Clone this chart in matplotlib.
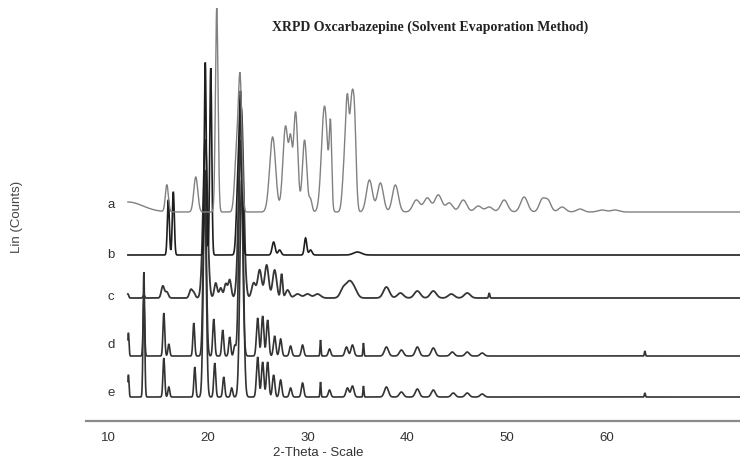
import numpy as np
import matplotlib
matplotlib.use("Agg")
import matplotlib.pyplot as plt

# ---- data (2-theta in degrees, intensity in counts; patterns stacked by offsets) ----
labels = ["a", "b", "c", "d", "e"]
offsets = [209, 166, 123, 65, 24]
scan_start, scan_end, scan_step = 12.0, 73.3, 0.02

a_pos = [12.0, 15.9, 18.8, 20.9, 22.9, 23.25, 26.5, 27.8, 28.3, 28.8, 29.7, 30.3, 31.7, 32.3,
         33.7, 34.0, 34.4, 34.7, 36.2, 37.3, 38.8, 40.9, 42.0, 43.1, 44.2, 45.6, 47.1, 48.2,
         49.7, 51.7, 53.5, 54.1, 55.5, 57.3, 59.5, 60.8]
a_int = [10, 27, 35, 204, 60, 125, 75, 86, 55, 100, 72, 12, 106, 78,
         45, 98, 92, 88, 32, 29, 27, 12, 14, 17, 9, 12, 6, 5,
         12, 15, 12, 11, 5, 3, 2, 2]
a_wid = [1.5, 0.15, 0.2, 0.13, 0.2, 0.17, 0.3, 0.27, 0.15, 0.22, 0.22, 0.15, 0.3, 0.12,
         0.2, 0.17, 0.17, 0.17, 0.3, 0.3, 0.3, 0.35, 0.35, 0.35, 0.35, 0.35, 0.35, 0.35,
         0.35, 0.35, 0.3, 0.3, 0.35, 0.35, 0.4, 0.4]

b_pos = [16.05, 16.55, 19.75, 20.3, 23.0, 23.3, 26.6, 27.2, 29.8, 30.3, 35.0]
b_int = [55, 63, 193, 187, 60, 155, 13, 5, 17, 5, 3]
b_wid = [0.1, 0.1, 0.1, 0.1, 0.15, 0.15, 0.15, 0.15, 0.12, 0.15, 0.4]

c_pos = [12.0, 13.6, 15.5, 15.9, 18.3, 18.6, 19.75, 20.8, 21.3, 21.8, 22.2, 23.35, 24.6, 25.2,
         25.9, 26.7, 27.4, 28.0, 29.0, 30.0, 31.0, 33.6, 34.2, 34.7, 37.9, 39.3, 41.0, 42.6,
         44.4, 46.0, 48.2]
c_int = [4, 3, 12, 6, 8, 5, 158, 15, 10, 14, 18, 190, 15, 28,
         33, 28, 24, 8, 4, 4, 4, 10, 14, 8, 11, 5, 7, 7,
         4, 5, 5]
c_wid = [0.08, 0.08, 0.15, 0.15, 0.15, 0.15, 0.22, 0.15, 0.15, 0.15, 0.15, 0.24, 0.2, 0.2,
         0.2, 0.2, 0.1, 0.2, 0.3, 0.3, 0.3, 0.3, 0.3, 0.3, 0.3, 0.3, 0.3, 0.3,
         0.3, 0.3, 0.06]

d_pos = [12.05, 13.6, 15.6, 16.1, 18.6, 19.7, 20.6, 21.5, 22.2, 22.7, 23.3, 25.0, 25.5, 26.0,
         26.7, 27.3, 28.3, 29.5, 31.3, 32.2, 33.9, 34.5, 35.6, 37.9, 39.4, 41.0, 42.6, 44.5,
         46.0, 47.5, 63.8]
d_int = [23, 55, 43, 12, 33, 186, 37, 26, 19, 10, 216, 38, 40, 36,
         20, 17, 10, 11, 16, 7, 9, 11, 13, 9, 6, 9, 8, 4,
         4, 3, 5]
d_wid = [0.06, 0.08, 0.09, 0.09, 0.09, 0.15, 0.1, 0.1, 0.1, 0.1, 0.18, 0.12, 0.12, 0.12,
         0.12, 0.12, 0.12, 0.12, 0.05, 0.12, 0.15, 0.15, 0.05, 0.2, 0.2, 0.2, 0.2, 0.2,
         0.2, 0.2, 0.05]

e_pos = [12.05, 13.6, 15.6, 16.1, 18.7, 19.7, 20.7, 21.6, 22.4, 23.4, 25.0, 25.5, 26.0, 26.6,
         27.3, 28.3, 29.5, 31.3, 32.2, 34.0, 34.5, 35.6, 37.9, 39.4, 41.0, 42.6, 44.6, 46.0,
         47.5, 63.8]
e_int = [22, 125, 39, 10, 30, 207, 34, 20, 9, 217, 40, 35, 35, 22,
         17, 9, 14, 15, 7, 9, 11, 11, 10, 5, 8, 7, 4, 4,
         3, 4]
e_wid = [0.06, 0.08, 0.09, 0.09, 0.09, 0.15, 0.1, 0.1, 0.1, 0.18, 0.12, 0.12, 0.12, 0.12,
         0.12, 0.12, 0.12, 0.05, 0.12, 0.15, 0.15, 0.05, 0.2, 0.2, 0.2, 0.2, 0.2, 0.2,
         0.2, 0.05]

x_ticks = [10, 20, 30, 40, 50, 60]
title = "XRPD Oxcarbazepine (Solvent Evaporation Method)"
x_label = "2-Theta - Scale"
y_label = "Lin (Counts)"

peaks = [(a_pos, a_int, a_wid), (b_pos, b_int, b_wid), (c_pos, c_int, c_wid),
         (d_pos, d_int, d_wid), (e_pos, e_int, e_wid)]
colors = ["#808080", "#1e1e1e", "#363636", "#333333", "#333333"]
widths = [1.0, 1.2, 1.3, 1.2, 1.2]

# ---- figure ----
W, H = 740, 461
fig = plt.figure(figsize=(W / 100, H / 100), dpi=100)
fig.patch.set_facecolor("white")
ax = fig.add_axes([86 / W, (H - 421) / H, (W - 86) / W, 421 / H])

tt = np.arange(scan_start, scan_end, scan_step)
for i in [4, 3, 2, 1, 0]:
    pos, inten, wid = peaks[i]
    y = np.full_like(tt, float(offsets[i]))
    for p, h, w in zip(pos, inten, wid):
        y += h * np.exp(-0.5 * ((tt - p) / w) ** 2)
    ax.plot(tt, y, color=colors[i], lw=widths[i], solid_joinstyle="miter")

ax.set_xlim(7.8, 73.33)
ax.set_ylim(0, 421)
for s in ["top", "right", "left"]:
    ax.spines[s].set_visible(False)
ax.spines["bottom"].set_color("#8a8a8a")
ax.spines["bottom"].set_linewidth(1.6)
ax.set_yticks([])
ax.set_xticks(x_ticks)
ax.tick_params(axis="x", length=0, pad=8, labelsize=9.5, labelcolor="#333333")
for lab in ax.get_xticklabels():
    lab.set_family("Liberation Sans")

label_px = [205, 255, 297, 345, 393]
for lab, py in zip(labels, label_px):
    fig.text(111 / W, 1 - py / H, lab, ha="center", va="center", fontsize=9.5,
             color="#333333", family="Liberation Sans")

fig.text(318 / W, 1 - 453 / H, x_label, ha="center", va="center", fontsize=9.5,
         color="#333333", family="Liberation Sans")
fig.text(17 / W, 1 - 217 / H, y_label, ha="center", va="center", rotation=90,
         fontsize=9.5, color="#444444", family="Liberation Sans")
fig.text(430 / W, 1 - 27 / H, title, ha="center", va="center", fontsize=10,
         fontweight="bold", color="#222222", family="Liberation Serif")

fig.savefig("out.png", dpi=100, facecolor="white")
